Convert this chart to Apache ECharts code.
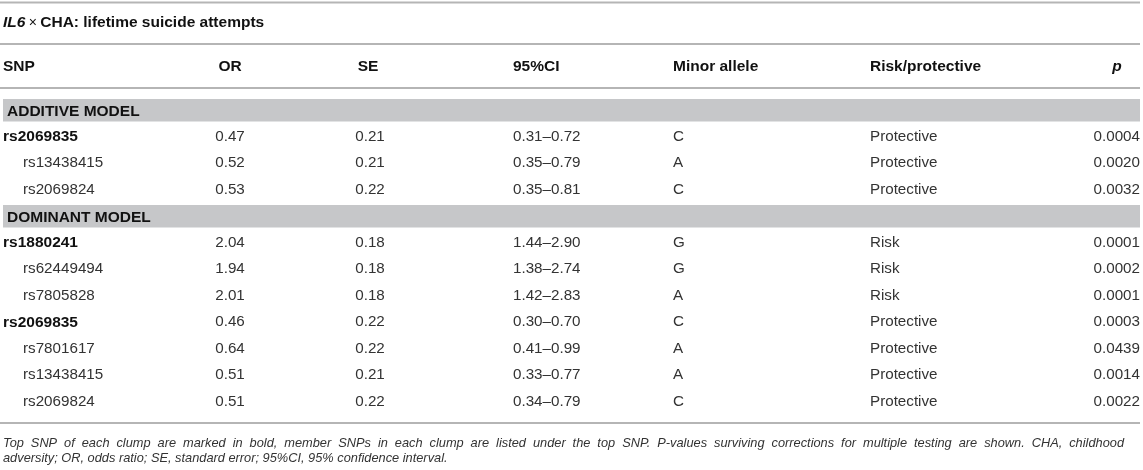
<!doctype html>
<html lang="en">
<head>
  <meta charset="utf-8">
  <title>IL6 x CHA: lifetime suicide attempts</title>
  <script src="https://cdn.jsdelivr.net/npm/echarts@6/dist/echarts.min.js"></script>
  <style>
    html, body { margin: 0; padding: 0; background: #fff; }
    #main { width: 1143px; height: 470px; }
  </style>
</head>
<body>
  <div id="main"></div>
  <script>
    // ---- table data ----
    var tableTitle = 'CHA: lifetime suicide attempts';
    var headers = ['SNP', 'OR', 'SE', '95%CI', 'Minor allele', 'Risk/protective', 'p'];
    var models = ['ADDITIVE MODEL', 'DOMINANT MODEL'];
    var snpModel = [0, 0, 0, 1, 1, 1, 1, 1, 1, 1];
    var snps = ['rs2069835', 'rs13438415', 'rs2069824', 'rs1880241', 'rs62449494', 'rs7805828',
      'rs2069835', 'rs7801617', 'rs13438415', 'rs2069824'];
    var topSnp = [1, 0, 0, 1, 0, 0, 1, 0, 0, 0];
    var oddsRatio = ['0.47', '0.52', '0.53', '2.04', '1.94', '2.01', '0.46', '0.64', '0.51', '0.51'];
    var stdErr = ['0.21', '0.21', '0.22', '0.18', '0.18', '0.18', '0.22', '0.22', '0.21', '0.22'];
    var ci95 = ['0.31–0.72', '0.35–0.79', '0.35–0.81', '1.44–2.90', '1.38–2.74', '1.42–2.83',
      '0.30–0.70', '0.41–0.99', '0.33–0.77', '0.34–0.79'];
    var minorAllele = ['C', 'A', 'C', 'G', 'G', 'A', 'C', 'A', 'A', 'C'];
    var effect = ['Protective', 'Protective', 'Protective', 'Risk', 'Risk', 'Risk',
      'Protective', 'Protective', 'Protective', 'Protective'];
    var pValues = ['0.0004', '0.0020', '0.0032', '0.0001', '0.0002', '0.0001', '0.0003', '0.0439', '0.0014', '0.0022'];
    var footnote = [
      'Top SNP of each clump are marked in bold, member SNPs in each clump are listed under the top SNP. P-values surviving corrections for multiple testing are shown. CHA, childhood',
      'adversity; OR, odds ratio; SE, standard error; 95%CI, 95% confidence interval.'
    ];

    // ---- layout ----
    var FONT = '"Liberation Sans", Arial, Helvetica, sans-serif';
    var SIZE = 15.2, BOLD_SIZE = 15.5, NOTE_SIZE = 12.8;
    var colX = [3, 230, 370, 513, 673, 870, 1140];
    var colAlign = ['left', 'center', 'center', 'left', 'left', 'left', 'right'];
    var headX = [3, 230, 368, 513, 673, 870, 1117];
    var headAlign = ['left', 'center', 'center', 'left', 'left', 'left', 'center'];
    var ruleColor = '#b5b5b5';
    var noteRight = 1124;

    // rows: a band row per model, followed by its SNPs
    var rowNames = [], bandRows = [], cells = [];
    models.forEach(function (m, mi) {
      var br = rowNames.length;
      bandRows.push({ value: [br], name: m });
      rowNames.push(m);
      snps.forEach(function (s, i) {
        if (snpModel[i] !== mi) return;
        var r = rowNames.length;
        rowNames.push(s);
        var vals = [s, oddsRatio[i], stdErr[i], ci95[i], minorAllele[i], effect[i], pValues[i]];
        vals.forEach(function (v, c) {
          cells.push({
            value: [colX[c], r],
            text: v,
            col: c,
            bold: c === 0 && topSnp[i] === 1,
            indent: c === 0 && topSnp[i] === 0
          });
        });
      });
    });

    var myChart = echarts.init(document.getElementById('main'));

    function renderBand(params, api) {
      var r = api.value(0);
      var a = api.coord([3, r]);
      var b = api.coord([1140, r]);
      var h = api.size([0, 1])[1];
      return {
        type: 'group',
        children: [
          {
            type: 'rect',
            shape: { x: a[0], y: a[1] - h / 2 + 2, width: b[0] - a[0], height: h - 4 },
            style: { fill: '#c6c7c9' }
          },
          {
            type: 'text',
            x: a[0] + 4,
            y: a[1] + 1,
            style: {
              text: bandRows[params.dataIndex].name,
              fontFamily: FONT, fontSize: BOLD_SIZE, fontWeight: 'bold',
              fill: '#111', align: 'left', verticalAlign: 'middle'
            }
          }
        ]
      };
    }

    function renderCell(params, api) {
      var d = cells[params.dataIndex];
      var p = api.coord([api.value(0), api.value(1)]);
      return {
        type: 'text',
        x: p[0] + (d.indent ? 20 : 0),
        y: p[1],
        style: {
          text: d.text,
          fontFamily: FONT,
          fontSize: d.bold ? BOLD_SIZE : SIZE,
          fontWeight: d.bold ? 'bold' : 'normal',
          fill: d.bold ? '#111' : '#333',
          align: colAlign[d.col],
          verticalAlign: 'middle'
        }
      };
    }

    // rules, caption, header, footnote
    var graphics = [];
    [2.5, 44, 88, 423].forEach(function (y) {
      graphics.push({
        type: 'line', shape: { x1: 0, y1: y, x2: 1140, y2: y },
        style: { stroke: ruleColor, lineWidth: 2 }, silent: true
      });
    });
    graphics.push({
      type: 'text', x: 3, y: 23,
      style: {
        text: '{a|IL6} {b|×} {c|' + tableTitle + '}',
        verticalAlign: 'middle',
        rich: {
          a: { fontFamily: FONT, fontSize: BOLD_SIZE, fontWeight: 'bold', fontStyle: 'italic', fill: '#111' },
          b: { fontFamily: FONT, fontSize: 14, fill: '#111' },
          c: { fontFamily: FONT, fontSize: BOLD_SIZE, fontWeight: 'bold', fill: '#111' }
        }
      }
    });
    headers.forEach(function (h, c) {
      graphics.push({
        type: 'text', x: headX[c], y: 67,
        style: {
          text: h, fontFamily: FONT, fontSize: BOLD_SIZE, fontWeight: 'bold',
          fontStyle: h === 'p' ? 'italic' : 'normal',
          fill: '#111', align: headAlign[c], verticalAlign: 'middle'
        }
      });
    });

    // footnote: first line is justified to the table width, last line is not
    var ctx = document.createElement('canvas').getContext('2d');
    ctx.font = 'italic ' + NOTE_SIZE + 'px ' + FONT;
    footnote.forEach(function (line, i) {
      var y = 443 + i * 15.5;
      var noteStyle = { fontFamily: FONT, fontSize: NOTE_SIZE, fontStyle: 'italic', fill: '#333', verticalAlign: 'middle' };
      if (i === footnote.length - 1) {
        graphics.push({ type: 'text', x: 3, y: y, style: Object.assign({ text: line, align: 'left' }, noteStyle) });
        return;
      }
      var words = line.split(' ');
      var total = 0;
      words.forEach(function (w) { total += ctx.measureText(w).width; });
      var gap = (noteRight - 3 - total) / (words.length - 1);
      var x = 3;
      words.forEach(function (w) {
        graphics.push({ type: 'text', x: x, y: y, style: Object.assign({ text: w, align: 'left' }, noteStyle) });
        x += ctx.measureText(w).width + gap;
      });
    });

    var option = {
      animation: false,
      grid: { left: 0, right: 0, top: 97, height: 318 },
      xAxis: { type: 'value', min: 0, max: 1143, show: false },
      yAxis: { type: 'category', data: rowNames, inverse: true, show: false },
      series: [
        { type: 'custom', name: 'bands', renderItem: renderBand, data: bandRows, silent: true },
        { type: 'custom', name: 'cells', renderItem: renderCell, data: cells, silent: true }
      ],
      graphic: graphics
    };
    myChart.setOption(option);
  </script>
</body>
</html>
